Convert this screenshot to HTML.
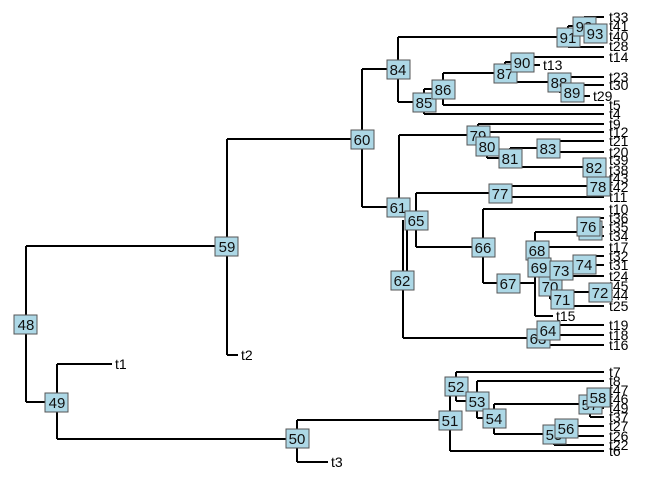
<!DOCTYPE html>
<html><head><meta charset="utf-8"><style>
html,body{margin:0;padding:0;background:#fff;}
svg{display:block;}
text{font-family:"Liberation Sans",sans-serif;}
.t{font-size:14px;fill:#000;}
.n rect{fill:#add8e6;stroke:#555;stroke-width:1;}
.n text{font-size:15px;fill:#111;text-anchor:middle;}
</style></head><body>
<svg width="672" height="480" viewBox="0 0 672 480" xmlns="http://www.w3.org/2000/svg">
<path fill="none" stroke="#000" stroke-width="2" d="
M26 246V402M26 246H227M26 402H57
M227 139V355M227 139H362M227 355H238
M57 364V439M57 364H112M57 439H297
M297 420V462M297 420H450M297 462H328
M450 386V451M450 386H456M450 451H604
M456 372V401M456 372H604M456 401H477
M477 381V418M477 381H604M477 418H494
M494 404V434M494 404H590M494 434H554
M590 397V417M590 397H598M590 408H604M590 417H604
M598 390V399M598 390H604M598 399H604
M554 428V445M554 428H566M554 445H604
M566 426V436M566 426H604M566 436H604
M362 69V207M362 69H398M362 207H398
M398 37V102M398 37H568M398 102H424
M568 26V47M568 26H584M568 47H604
M584 17V33M584 17H604M584 33H595
M595 26V37M595 26H604M595 37H604
M424 89V114M424 89H443M424 114H604
M443 73V105M443 73H505M443 105H604
M505 62V82M505 62H522M505 82H559
M522 57V65M522 57H604M522 65H540
M559 77V92M559 77H604M559 92H572
M572 85V96M572 85H604M572 96H590
M399 135V207M399 135H478
M478 124V146M478 124H604M478 146H487
M487 132V158M487 132H604M487 158H510
M510 148V167M510 148H548M510 167H594
M548 141V152M548 141H604M548 152H604
M594 160V170M594 160H604M594 170H604
M403 220V338M403 338H538M407 220V280
M416 193V247M416 193H500M416 247H483
M500 186V197M500 186H598M500 197H604
M598 178V187M598 178H604M598 187H604
M483 209V283M483 209H604M483 283H508
M535 232V316M508 283H535M535 232H590M535 247H604M535 316H553
M537 267H561M561 264V276M561 264H584M561 276H604
M584 256V265M584 256H604M584 265H604
M550 286V299M550 299H562
M562 292V306M562 292H600M562 306H604
M600 286V295M600 286H604M600 295H604
M590 218V236M590 218H604M590 227H604M590 236H604
M538 330V345M538 330H548M538 345H604
M548 325V335M548 325H604M548 335H604
"/>
<g class="t">
<text x="609" y="22">t33</text><text x="609" y="31">t41</text><text x="609" y="41">t40</text><text x="609" y="51">t28</text><text x="609" y="62">t14</text>
<text x="543" y="70">t13</text>
<text x="609" y="82">t23</text><text x="609" y="90">t30</text><text x="593" y="101">t29</text>
<text x="609" y="110">t5</text><text x="609" y="119">t4</text><text x="609" y="129">t9</text><text x="609" y="137">t12</text>
<text x="609" y="146">t21</text><text x="609" y="157">t20</text><text x="609" y="165">t39</text><text x="609" y="175">t38</text>
<text x="609" y="183">t43</text><text x="609" y="192">t42</text><text x="609" y="202">t11</text><text x="609" y="214">t10</text>
<text x="609" y="223">t36</text><text x="609" y="232">t35</text><text x="609" y="241">t34</text><text x="609" y="252">t17</text>
<text x="609" y="261">t32</text><text x="609" y="270">t31</text><text x="609" y="281">t24</text><text x="609" y="291">t45</text>
<text x="609" y="300">t44</text><text x="609" y="311">t25</text><text x="556" y="321">t15</text>
<text x="609" y="330">t19</text><text x="609" y="340">t18</text><text x="609" y="350">t16</text>
<text x="241" y="360">t2</text><text x="115" y="369">t1</text>
<text x="609" y="377">t7</text><text x="609" y="386">t8</text><text x="609" y="395">t47</text><text x="609" y="404">t46</text>
<text x="609" y="413">t49</text><text x="609" y="422">t37</text><text x="609" y="431">t27</text><text x="609" y="441">t26</text>
<text x="609" y="450">t22</text><text x="609" y="456">t6</text><text x="331" y="467">t3</text>
</g>
<g class="n">
<rect x="14" y="315" width="23" height="19"/><text x="26" y="330">48</text>
<rect x="215" y="237" width="23" height="19"/><text x="227" y="252">59</text>
<rect x="45" y="393" width="23" height="19"/><text x="57" y="408">49</text>
<rect x="286" y="429" width="23" height="19"/><text x="297" y="444">50</text>
<rect x="439" y="411" width="23" height="19"/><text x="450" y="426">51</text>
<rect x="445" y="377" width="23" height="19"/><text x="456" y="392">52</text>
<rect x="466" y="392" width="23" height="19"/><text x="477" y="407">53</text>
<rect x="483" y="409" width="23" height="19"/><text x="494" y="424">54</text>
<rect x="543" y="425" width="23" height="19"/><text x="554" y="440">55</text>
<rect x="555" y="419" width="23" height="19"/><text x="566" y="434">56</text>
<rect x="579" y="395" width="23" height="19"/><text x="590" y="410">57</text>
<rect x="587" y="388" width="23" height="19"/><text x="598" y="403">58</text>
<rect x="351" y="130" width="23" height="19"/><text x="362" y="145">60</text>
<rect x="387" y="60" width="23" height="19"/><text x="398" y="75">84</text>
<rect x="557" y="28" width="23" height="19"/><text x="568" y="43">91</text>
<rect x="573" y="17" width="23" height="19"/><text x="584" y="32">92</text>
<rect x="584" y="24" width="23" height="19"/><text x="595" y="39">93</text>
<rect x="413" y="93" width="23" height="19"/><text x="424" y="108">85</text>
<rect x="432" y="80" width="23" height="19"/><text x="443" y="95">86</text>
<rect x="494" y="64" width="23" height="19"/><text x="505" y="79">87</text>
<rect x="511" y="53" width="23" height="19"/><text x="522" y="68">90</text>
<rect x="548" y="73" width="23" height="19"/><text x="559" y="88">88</text>
<rect x="561" y="83" width="23" height="19"/><text x="572" y="98">89</text>
<rect x="467" y="126" width="23" height="19"/><text x="478" y="141">79</text>
<rect x="476" y="137" width="23" height="19"/><text x="487" y="152">80</text>
<rect x="499" y="149" width="23" height="19"/><text x="510" y="164">81</text>
<rect x="537" y="139" width="23" height="19"/><text x="548" y="154">83</text>
<rect x="583" y="158" width="23" height="19"/><text x="594" y="173">82</text>
<rect x="387" y="198" width="23" height="19"/><text x="398" y="213">61</text>
<rect x="405" y="211" width="23" height="19"/><text x="416" y="226">65</text>
<rect x="391" y="271" width="23" height="19"/><text x="402" y="286">62</text>
<rect x="489" y="184" width="23" height="19"/><text x="500" y="199">77</text>
<rect x="587" y="177" width="23" height="19"/><text x="598" y="192">78</text>
<rect x="472" y="238" width="23" height="19"/><text x="483" y="253">66</text>
<rect x="526" y="241" width="23" height="19"/><text x="537" y="256">68</text>
<rect x="579" y="221" width="23" height="19"/><text x="590" y="236">75</text>
<rect x="577" y="217" width="23" height="19"/><text x="588" y="232">76</text>
<rect x="528" y="258" width="23" height="19"/><text x="539" y="273">69</text>
<rect x="497" y="274" width="23" height="19"/><text x="508" y="289">67</text>
<rect x="539" y="277" width="23" height="19"/><text x="550" y="292">70</text>
<rect x="550" y="261" width="23" height="19"/><text x="561" y="276">73</text>
<rect x="573" y="255" width="23" height="19"/><text x="584" y="270">74</text>
<rect x="551" y="290" width="23" height="19"/><text x="562" y="305">71</text>
<rect x="589" y="283" width="23" height="19"/><text x="600" y="298">72</text>
<rect x="527" y="329" width="23" height="19"/><text x="538" y="344">63</text>
<rect x="537" y="321" width="23" height="19"/><text x="548" y="336">64</text>
</g>
</svg>
</body></html>
